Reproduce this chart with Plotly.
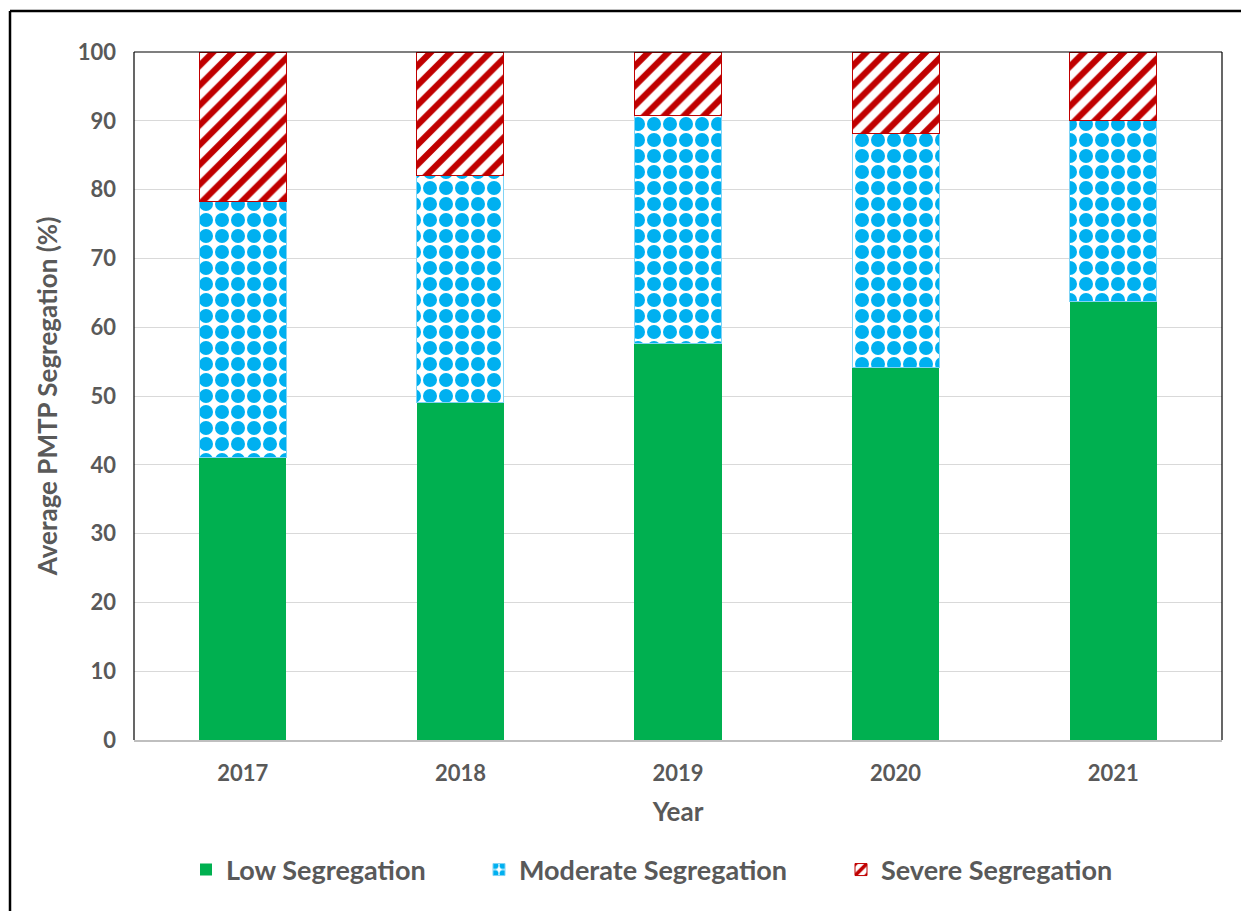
import plotly.graph_objects as go

years = ["2017", "2018", "2019", "2020", "2021"]
low = [41.1, 49.0, 57.7, 54.1, 63.7]
moderate = [37.2, 33.0, 33.1, 34.0, 26.3]
severe = [21.7, 18.0, 9.2, 11.9, 10.0]

font_fam = "Lato, 'Open Sans', sans-serif"
gray = "#595959"

# page has an 8px body margin; figure origin is at page (8, 8)
OFF = 8
W, H = 1249 - OFF, 911 - OFF
L, T = 134 - OFF, 52 - OFF
pw, ph = 1222 - 134, 740 - 52
R = W - L - pw
B = H - T - ph

def px(x):
    return (x - OFF - L) / pw

def py(y):
    return (ph - (y - OFF - T)) / ph

fig = go.Figure()
fig.add_trace(go.Bar(
    x=years, y=low, name="Low Segregation", legend="legend",
    marker=dict(color="#00B050", line=dict(width=0)),
))
fig.add_trace(go.Bar(
    x=years, y=moderate, name="Moderate Segregation", legend="legend2",
    marker=dict(color="white", line=dict(color="#7FD3F5", width=1),
                pattern=dict(shape=".", fgcolor="#00B0F0", bgcolor="white",
                             size=16, solidity=0.6, fillmode="replace", fgopacity=1)),
))
fig.add_trace(go.Bar(
    x=years, y=severe, name="Severe Segregation", legend="legend3",
    marker=dict(color="white", line=dict(color="#C00000", width=1),
                pattern=dict(shape="/", fgcolor="#C00000", bgcolor="white",
                             size=14, solidity=0.45, fillmode="replace", fgopacity=1)),
))

leg_common = dict(orientation="h", yanchor="middle", y=py(870), xanchor="left",
                  font=dict(size=27, color=gray, family=font_fam, weight="bold"),
                  bgcolor="rgba(0,0,0,0)", itemwidth=30)

fig.update_layout(
    width=W, height=H,
    margin=dict(l=L, r=R, t=T, b=B),
    barmode="stack", bargap=0.6,
    plot_bgcolor="white", paper_bgcolor="white",
    font=dict(family=font_fam, color=gray, size=20),
    xaxis=dict(
        title=dict(text="Year", font=dict(size=26, color=gray, weight="bold"), standoff=18),
        tickfont=dict(size=22, color=gray, weight="bold"),
        showline=True, linecolor="#BFBFBF", linewidth=1.5,
        ticks="", showgrid=False, ticklabelstandoff=13,
    ),
    yaxis=dict(
        title=dict(text="Average PMTP Segregation (%)", font=dict(size=26, color=gray, weight="bold"), standoff=12),
        range=[0, 100], dtick=10,
        tickfont=dict(size=22, color=gray, weight="bold"),
        showgrid=True, gridcolor="#D9D9D9", gridwidth=1,
        zeroline=False, ticks="", ticklabelstandoff=17,
        showline=False,
    ),
    legend=dict(x=px(186), **leg_common),
    legend2=dict(x=px(479), **leg_common),
    legend3=dict(x=px(841), **leg_common),
    showlegend=True,
)

# plot-area border (left, top, right in black)
for (x0, y0, x1, y1) in [(0, 0, 0, 1), (0, 1, 1, 1), (1, 0, 1, 1)]:
    fig.add_shape(type="line", xref="paper", yref="paper", x0=x0, y0=y0, x1=x1, y1=y1,
                  line=dict(color="black", width=1.2), layer="above")

# outer frame: thick black lines on the left and top only
fig.add_shape(type="line", xref="paper", yref="paper",
              x0=px(10), y0=py(1300), x1=px(10), y1=py(11),
              line=dict(color="black", width=2.5), layer="above")
fig.add_shape(type="line", xref="paper", yref="paper",
              x0=px(10), y0=py(11), x1=px(1400), y1=py(11),
              line=dict(color="black", width=2.5), layer="above")

fig.write_html("out.html")
